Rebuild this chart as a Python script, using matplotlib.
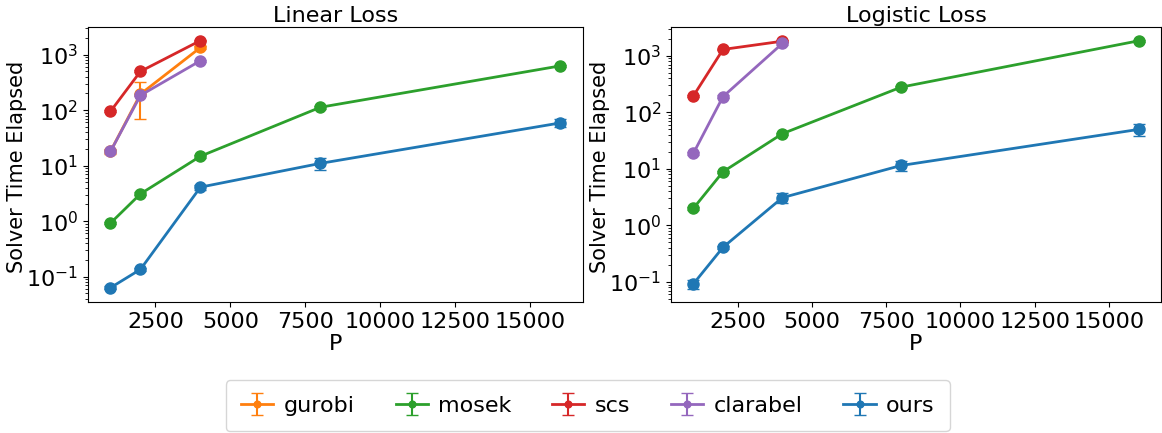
import matplotlib
matplotlib.use("Agg")
import matplotlib.pyplot as plt
import numpy as np

P = [1000, 2000, 4000, 8000, 16000]

# Linear loss
lin_gurobi = [18, 195, 1350]
lin_gurobi_err = [2, 125, 60]
lin_mosek = [0.92, 3.1, 14.8, 113, 630]
lin_mosek_err = [0.05, 0.2, 0.8, 6, 30]
lin_scs = [95, 500, 1800]
lin_scs_err = [4, 20, 60]
lin_clarabel = [18, 185, 780]
lin_clarabel_err = [1, 8, 30]
lin_ours = [0.063, 0.135, 4.1, 11, 59]
lin_ours_err = [0.004, 0.01, 0.4, 2.8, 9]

# Logistic loss
log_mosek = [2.0, 8.9, 42, 280, 1850]
log_mosek_err = [0.1, 0.4, 2, 12, 80]
log_scs = [195, 1300, 1820]
log_scs_err = [8, 50, 60]
log_clarabel = [18.8, 190, 1660]
log_clarabel_err = [1.5, 10, 70]
log_ours = [0.092, 0.41, 3.1, 11.5, 50]
log_ours_err = [0.018, 0.03, 0.6, 2.5, 12]

labels = ["gurobi", "mosek", "scs", "clarabel", "ours"]
colors = {"gurobi": "#ff7f0e", "mosek": "#2ca02c", "scs": "#d62728",
          "clarabel": "#9467bd", "ours": "#1f77b4"}

plt.rcParams['font.size'] = 16

fig = plt.figure(figsize=(11.62, 4.33), dpi=100)
ax1 = fig.add_axes([0.0757, 0.303, 0.426, 0.634])
ax2 = fig.add_axes([0.5775, 0.303, 0.4215, 0.634])

def draw(ax, series):
    handles = []
    for name, y, e in series:
        if y is None:
            continue
        h = ax.errorbar(P[:len(y)], y, yerr=e, color=colors[name], marker='o',
                        markersize=8, linewidth=2, capsize=4, elinewidth=1.5,
                        label=name)
        handles.append(h)
    ax.set_yscale('log')
    ax.set_xlabel('P', fontsize=16, labelpad=2)
    ax.set_ylabel('Solver Time Elapsed', fontsize=15)
    ax.yaxis.set_label_coords(-0.124, 0.49)
    ax.tick_params(labelsize=16)
    return handles

h1 = draw(ax1, [("gurobi", lin_gurobi, lin_gurobi_err),
                ("mosek", lin_mosek, lin_mosek_err),
                ("scs", lin_scs, lin_scs_err),
                ("clarabel", lin_clarabel, lin_clarabel_err),
                ("ours", lin_ours, lin_ours_err)])
draw(ax2, [("gurobi", None, None),
           ("mosek", log_mosek, log_mosek_err),
           ("scs", log_scs, log_scs_err),
           ("clarabel", log_clarabel, log_clarabel_err),
           ("ours", log_ours, log_ours_err)])
ax1.set_title('Linear Loss', fontsize=16, pad=4)
ax2.set_title('Logistic Loss', fontsize=16, pad=4)

fig.legend(handles=h1, labels=labels, loc='lower center', ncol=5,
           bbox_to_anchor=(0.5058, -0.022), fontsize=16, frameon=True,
           columnspacing=1.85, handlelength=1.45, handletextpad=0.45,
           markerscale=0.6, borderpad=0.7)

fig.savefig('out.png', dpi=100)
